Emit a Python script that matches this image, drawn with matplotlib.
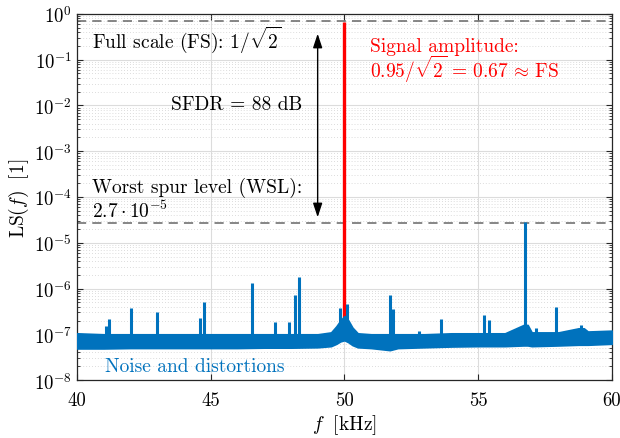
import numpy as np
import matplotlib
matplotlib.use('Agg')
import matplotlib.pyplot as plt

plt.rcParams['font.family'] = 'serif'
plt.rcParams['font.serif'] = ['cmr10']
plt.rcParams['mathtext.fontset'] = 'cm'
plt.rcParams['axes.unicode_minus'] = False

# noise floor envelope (kHz, upper, lower)
band_f = [40.0, 41.0, 42.0, 43.0, 44.0, 45.0, 46.0, 47.0, 48.0, 49.0, 49.5, 49.7, 49.85,
          50.0, 50.15, 50.3, 50.5, 51.0, 51.7, 52.0, 53.0, 54.0, 55.0, 56.0, 56.7, 56.85,
          57.0, 58.0, 58.75, 58.95, 59.1, 60.0]
band_hi = [1.05e-7, 1.0e-7, 1.0e-7, 1.0e-7, 1.0e-7, 1.0e-7, 1.0e-7, 1.0e-7, 1.0e-7, 1.0e-7,
           1.1e-7, 1.5e-7, 2.0e-7, 2.5e-7, 2.0e-7, 1.4e-7, 1.05e-7, 1.0e-7, 1.0e-7, 1.0e-7,
           1.0e-7, 1.05e-7, 1.05e-7, 1.05e-7, 1.6e-7, 1.6e-7, 1.1e-7, 1.1e-7, 1.35e-7, 1.35e-7,
           1.15e-7, 1.2e-7]
band_lo = [4.9e-8, 4.9e-8, 5.0e-8, 5.0e-8, 5.0e-8, 5.0e-8, 5.0e-8, 5.1e-8, 5.1e-8, 5.2e-8,
           5.5e-8, 6.2e-8, 7.0e-8, 7.4e-8, 6.7e-8, 5.8e-8, 5.2e-8, 5.0e-8, 4.5e-8, 5.0e-8,
           5.2e-8, 5.4e-8, 5.5e-8, 5.5e-8, 5.7e-8, 5.7e-8, 5.5e-8, 5.7e-8, 5.9e-8, 5.9e-8,
           5.9e-8, 6.2e-8]

# spurs (kHz, peak level)
spur_f = [41.08, 41.21, 42.01, 43.00, 44.62, 44.76, 46.53, 47.40, 47.94, 48.16, 48.30,
          49.85, 50.08, 51.70, 51.83, 52.80, 53.60, 55.23, 55.39, 56.76, 57.16, 57.90, 58.85]
spur_a = [1.5e-7, 2.2e-7, 3.7e-7, 3.0e-7, 2.3e-7, 5.0e-7, 1.3e-6, 1.9e-7, 1.9e-7, 7.2e-7, 1.75e-6,
          3.8e-7, 4.5e-7, 7.2e-7, 3.6e-7, 1.2e-7, 2.2e-7, 2.6e-7, 2.1e-7, 2.8e-5, 1.4e-7, 4.0e-7, 1.6e-7]

f_sig = 50.0
a_sig = 0.95 / np.sqrt(2)
fs_level = 1 / np.sqrt(2)
wsl = 2.7e-5

blue = '#0072BD'

fig = plt.figure(figsize=(6.2, 4.39), dpi=100)
ax = fig.add_axes([0.124, 0.132, 0.863, 0.834])

ax.axhline(fs_level, color='#666666', lw=1.1, dashes=(6, 4), zorder=2)
ax.axhline(wsl, color='#666666', lw=1.1, dashes=(6, 4), zorder=2)

ax.vlines(f_sig, 1e-7, a_sig, color='red', lw=2.4, zorder=3)

ax.fill_between(band_f, band_lo, band_hi, color=blue, lw=1.2, edgecolor=blue, zorder=4)
ax.vlines(spur_f, 8e-8, spur_a, color=blue, lw=2.2, zorder=4)

ax.annotate('', xy=(49, 0.37), xytext=(49, 3.6e-5),
            arrowprops=dict(arrowstyle='<|-|>,head_length=0.85,head_width=0.28',
                            color='black', lw=1.0, shrinkA=0, shrinkB=0), zorder=5)

fs_txt = 14
ax.text(40.56, 0.28, r'Full scale (FS): $1/\sqrt{2}$', fontsize=fs_txt, va='center')
ax.text(45.96, 0.0108, r'SFDR = 88 dB', fontsize=fs_txt, va='center', ha='center')
ax.text(40.56, 1.66e-4, r'Worst spur level (WSL):', fontsize=fs_txt, va='center')
ax.text(40.56, 5.0e-5, r'$2.7\cdot10^{-5}$', fontsize=fs_txt, va='center')
ax.text(50.95, 0.204, r'Signal amplitude:', fontsize=fs_txt, va='center', color='red')
ax.text(50.95, 0.063, r'$0.95/\sqrt{2}\,=\,0.67\,\approx\,\mathrm{FS}$', fontsize=fs_txt,
        va='center', color='red')
ax.text(41.05, 2.0e-8, r'Noise and distortions', fontsize=fs_txt, va='center', color=blue)

ax.set_yscale('log')
ax.set_xlim(40, 60)
ax.set_ylim(1e-8, 1)
ax.set_xticks([40, 45, 50, 55, 60])
ax.set_xticklabels(['40', '45', '50', '55', '60'])
ax.set_yticks([10.0 ** k for k in range(-8, 1)])
ax.set_yticklabels([r'$10^{%d}$' % k for k in range(-8, 1)])
ax.tick_params(labelsize=13.5, direction='in', top=True, right=True, length=4, color='#262626')
ax.tick_params(axis='x', pad=8)
ax.tick_params(which='minor', direction='in', right=True, length=2.5, color='#262626')
ax.grid(True, which='major', color='#dcdcdc', lw=0.8, zorder=0)
ax.grid(True, which='minor', axis='y', color='#d0d0d0', lw=0.6, linestyle=(0, (1, 2.5)), zorder=0)
ax.set_axisbelow(True)
for s in ax.spines.values():
    s.set_color('#262626')
    s.set_linewidth(0.9)

ax.set_xlabel(r'$f\ \ [\mathrm{kHz}]$', fontsize=14, labelpad=2)
ax.set_ylabel(r'$\mathrm{LS}(f)\ \ [1]$', fontsize=14, labelpad=2)

fig.savefig('out.png', dpi=100)
